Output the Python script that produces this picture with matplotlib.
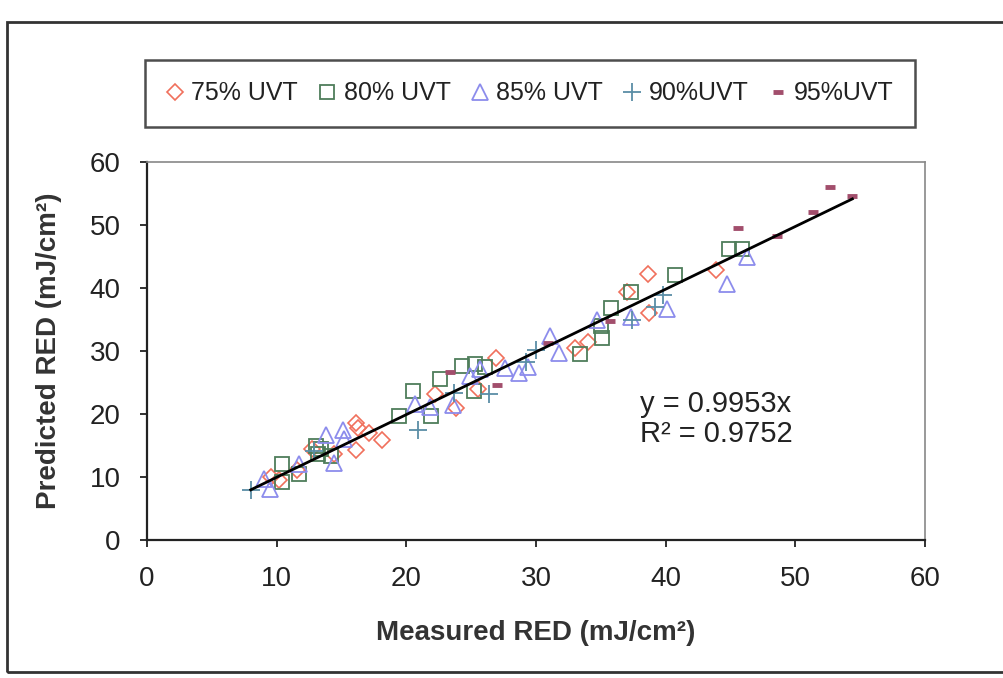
import numpy as np
import matplotlib
matplotlib.use('Agg')
from matplotlib import pyplot as plt
from matplotlib.patches import Rectangle

plt.rcParams['font.family'] = ['Liberation Sans', 'DejaVu Sans']

# measured vs predicted RED, mJ/cm2
x75 = [9.6, 10.2, 11.6, 12.7, 14.4, 16.1, 16.3, 17.1, 18.1, 16.1, 22.2, 23.8, 25.5, 26.9, 33.0, 34.0, 37.0, 38.6, 38.7, 43.9]
y75 = [10.0, 9.5, 11.1, 14.4, 13.6, 18.5, 17.8, 17.0, 15.9, 14.3, 23.2, 21.0, 23.9, 28.9, 30.4, 31.5, 39.4, 42.2, 36.0, 42.8]
x80 = [10.4, 10.4, 11.7, 13.0, 13.4, 13.2, 14.2, 19.4, 20.5, 21.9, 22.6, 24.3, 25.3, 26.1, 25.2, 33.4, 35.0, 35.1, 35.8, 37.3, 40.7, 44.9, 45.9]
y80 = [12.1, 9.2, 10.5, 15.0, 14.4, 13.6, 13.4, 19.7, 23.6, 19.7, 25.6, 27.6, 27.9, 27.5, 23.6, 29.6, 33.9, 32.0, 36.8, 39.4, 42.1, 46.2, 46.2]
x85 = [9.0, 9.5, 11.7, 13.8, 14.4, 15.1, 15.2, 20.7, 21.8, 23.6, 24.9, 25.7, 27.6, 28.7, 29.4, 31.1, 31.8, 34.7, 37.3, 40.1, 44.7, 46.3]
y85 = [9.7, 8.1, 12.1, 16.6, 12.3, 17.4, 16.0, 21.6, 21.1, 21.5, 26.0, 27.1, 27.3, 26.5, 27.5, 32.4, 29.7, 35.0, 35.4, 36.6, 40.7, 45.0]
x90 = [8.0, 12.9, 20.9, 23.7, 26.4, 29.2, 30.0, 37.4, 39.2, 39.8]
y90 = [8.0, 14.1, 17.4, 23.3, 23.2, 28.2, 30.1, 34.9, 37.0, 38.9]
x95 = [23.4, 27.0, 30.9, 35.7, 45.6, 48.6, 51.4, 52.7, 54.4]
y95 = [26.6, 24.6, 31.3, 34.7, 49.6, 48.3, 52.0, 56.0, 54.6]

slope = 0.9953
r2 = 0.9752
labels = ['75% UVT', '80% UVT', '85% UVT', '90%UVT', '95%UVT']

fig = plt.figure(figsize=(10.04, 6.78), dpi=100)
ax = fig.add_axes([147/1004, 1-540/678, 778/1004, 378/678])

ax.plot(x75, y75, 'D', ms=8.5, mfc='none', mec='#F0705C', mew=1.2, label=labels[0])
ax.plot(x80, y80, 's', ms=10, mfc='none', mec='#4E7D5A', mew=1.3, label=labels[1])
ax.plot(x85, y85, '^', ms=11, mfc='none', mec='#8C8CEC', mew=1.3, label=labels[2])
ax.plot(x90, y90, '+', ms=13, mec='#5A8EA6', mew=1.3, label=labels[3])
ax.plot(x95, y95, '_', ms=7, mec='#A24E6C', mew=3.5, label=labels[4])

allx = np.concatenate([x75, x80, x85, x90, x95])
xl = np.array([allx.min(), allx.max()])
ax.plot(xl, slope*xl, color='black', lw=2)

ax.text(38.0, 19.2, 'y = 0.9953x\nR² = %.4f' % r2, fontsize=21, color='#222222',
        linespacing=1.05, va='center')

ax.set_xlim(0, 60)
ax.set_ylim(0, 60)
ax.set_xticks(range(0, 61, 10))
ax.set_yticks(range(0, 61, 10))
ax.tick_params(direction='out', length=5, width=1.3, labelsize=20, colors='#222222')
ax.tick_params(axis='x', pad=14)
ax.tick_params(axis='y', pad=14)
for s in ['left', 'bottom']:
    ax.spines[s].set_linewidth(1.6)
    ax.spines[s].set_color('#222222')
for s in ['top', 'right']:
    ax.spines[s].set_linewidth(1.2)
    ax.spines[s].set_color('#888888')

ax.set_xlabel('Measured RED (mJ/cm²)', fontsize=20, fontweight='bold', color='#333333', labelpad=20)
ax.set_ylabel('Predicted RED (mJ/cm²)', fontsize=20, fontweight='bold', color='#333333', labelpad=20)

leg = fig.legend(loc='center', bbox_to_anchor=(145/1004, 1-130/678, 770/1004, 73/678),
                 mode='expand', ncol=5, fontsize=18, frameon=True, fancybox=False,
                 handlelength=0.7, handletextpad=0.3, borderpad=0.85, borderaxespad=0)
leg.get_frame().set_edgecolor('#222222')
leg.get_frame().set_linewidth(1.8)
for t in leg.get_texts():
    t.set_color('#222222')

fig.patches.append(Rectangle((7/1004, 1-672/678), 1.2, 650/678, transform=fig.transFigure,
                             fill=False, lw=2, ec='#333333', clip_on=False))

plt.savefig('out.png', dpi=100)
